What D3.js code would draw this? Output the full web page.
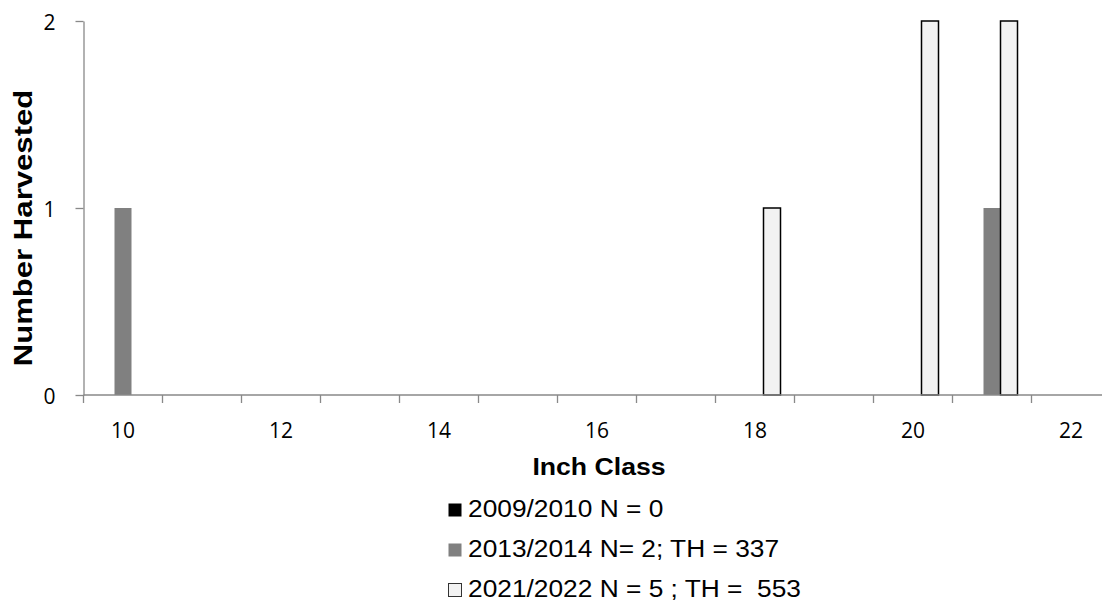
<!DOCTYPE html>
<html>
<head>
<meta charset="utf-8">
<title>Number Harvested by Inch Class</title>
<script src="https://cdn.jsdelivr.net/npm/d3@7"></script>
<style>
  body { margin: 0; background: #fff; }
  svg { display: block; }
  .tick-label { font-family: "Open Sans", sans-serif; font-size: 21px; fill: #000; }
  .title { font-family: "Liberation Sans", Arial, sans-serif; font-weight: bold; fill: #000; }
  .legend text { font-family: "Liberation Sans", Arial, sans-serif; font-size: 23.5px; fill: #000; white-space: pre; }
</style>
</head>
<body>
<script>
// chart values
var categories = [10, 11, 12, 13, 14, 15, 16, 17, 18, 19, 20, 21, 22];
var labelCats = [10, 12, 14, 16, 18, 20, 22];
var seriesNames = ["2009/2010 N = 0", "2013/2014 N= 2; TH = 337", "2021/2022 N = 5 ; TH =  553"];
var s2009 = [0, 0, 0, 0, 0, 0, 0, 0, 0, 0, 0, 0, 0];
var s2013 = [1, 0, 0, 0, 0, 0, 0, 0, 0, 0, 0, 1, 0];
var s2021 = [0, 0, 0, 0, 0, 0, 0, 0, 1, 0, 2, 2, 0];
var yTicks = [0, 1, 2];

var W = 1102, H = 600;
var fills = ["#000000", "#808080", "#f2f2f2"];
var strokes = ["none", "none", "#000000"];
var axisColor = "#898989";

var svg = d3.select("body").append("svg")
    .attr("width", W)
    .attr("height", H);

var x = d3.scaleBand().domain(categories).range([83.5, 1110.5]).padding(0);
var xs = d3.scaleBand().domain([0, 1, 2]).range([14, 65]);
var y = d3.scaleLinear().domain([0, 2]).range([395, 21]);

// bars
var allSeries = [s2009, s2013, s2021];
allSeries.forEach(function(vals, si) {
  var pts = categories.map(function(c, i) { return {c: c, v: vals[i]}; })
      .filter(function(d) { return d.v > 0; });
  svg.append("g").selectAll("rect")
    .data(pts)
    .enter().append("rect")
    .attr("x", function(d) { return x(d.c) + xs(si); })
    .attr("y", function(d) { return y(d.v); })
    .attr("width", xs.bandwidth())
    .attr("height", function(d) { return y(0) - y(d.v); })
    .attr("fill", fills[si])
    .attr("stroke", strokes[si])
    .attr("stroke-width", 1.5);
});

// x axis line + ticks at band edges
var xAxisG = svg.append("g");
xAxisG.append("line")
    .attr("x1", x.range()[0]).attr("x2", W)
    .attr("y1", y(0)).attr("y2", y(0))
    .attr("stroke", axisColor).attr("stroke-width", 1.3);
var edges = categories.map(function(c) { return x(c); }).concat([x.range()[1]]);
xAxisG.selectAll(".xt")
    .data(edges)
    .enter().append("line")
    .attr("x1", function(d) { return d; }).attr("x2", function(d) { return d; })
    .attr("y1", y(0)).attr("y2", y(0) + 8)
    .attr("stroke", axisColor).attr("stroke-width", 1.3);
xAxisG.selectAll(".tick-label")
    .data(labelCats)
    .enter().append("text")
    .attr("class", "tick-label")
    .attr("x", function(d) { return x(d) + x.bandwidth() / 2; })
    .attr("y", 438)
    .attr("text-anchor", "middle")
    .text(function(d) { return d; });

// y axis
var yAxis = d3.axisLeft(y).tickValues(yTicks).tickSize(8).tickPadding(20).tickSizeOuter(0)
    .tickFormat(d3.format("d"));
var yAxisG = svg.append("g")
    .attr("transform", "translate(" + x.range()[0] + ",0)")
    .call(yAxis);
yAxisG.select(".domain").attr("stroke", axisColor).attr("stroke-width", 1.3);
yAxisG.selectAll(".tick line").attr("stroke", axisColor).attr("stroke-width", 1.3);
yAxisG.selectAll(".tick text")
    .attr("class", "tick-label")
    .attr("dy", "0.4em");

// axis titles
svg.append("text")
    .attr("class", "title")
    .attr("transform", "translate(599,475) scale(1.11,1)")
    .attr("text-anchor", "middle")
    .style("font-size", "24px")
    .text("Inch Class");

svg.append("text")
    .attr("class", "title")
    .attr("transform", "translate(32,228) rotate(-90) scale(1.22,1)")
    .attr("text-anchor", "middle")
    .style("font-size", "25.5px")
    .text("Number Harvested");

// legend
var legend = svg.append("g").attr("class", "legend")
    .selectAll("g")
    .data(seriesNames)
    .enter().append("g")
    .attr("transform", function(d, i) { return "translate(448," + (503 + i * 40) + ")"; });

legend.append("rect")
    .attr("x", 0.5).attr("y", 0.5)
    .attr("width", 13).attr("height", 13)
    .attr("fill", function(d, i) { return fills[i]; })
    .attr("stroke", function(d, i) { return i === 2 ? "#333" : "none"; })
    .attr("stroke-width", 1);

legend.append("text")
    .attr("transform", "translate(20,13.5) scale(1.12,1)")
    .text(function(d) { return d; });
</script>
</body>
</html>
